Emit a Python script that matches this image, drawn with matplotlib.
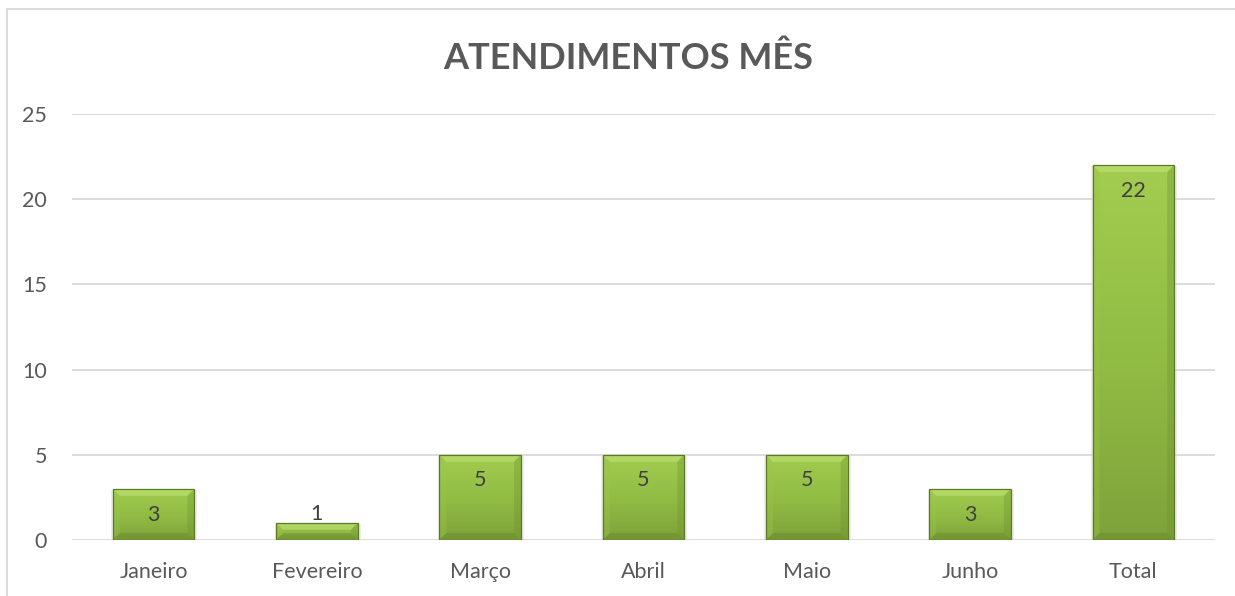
import matplotlib
matplotlib.use("Agg")
import matplotlib.pyplot as plt
import numpy as np
from matplotlib.patches import Polygon, Rectangle
from matplotlib.colors import LinearSegmentedColormap

categories = ["Janeiro", "Fevereiro", "Março", "Abril", "Maio", "Junho", "Total"]
values = [3, 1, 5, 5, 5, 3, 22]
yticks = [0, 5, 10, 15, 20, 25]
title = "ATENDIMENTOS MÊS"

plt.rcParams['font.family'] = ['Lato', 'DejaVu Sans']
W, H = 1235, 596
fig = plt.figure(figsize=(W / 100, H / 100), dpi=100)
fig.patch.set_facecolor("white")

# outer chart border
fig.add_artist(Rectangle((7 / W, -0.1), 1.2, (H - 9) / H + 0.1, transform=fig.transFigure,
                         fill=False, edgecolor="#d9d9d9", linewidth=1.3))

ax = fig.add_axes([72 / W, (H - 540) / H, (1215 - 72) / W, (540 - 114) / H])
ax.set_xlim(-0.5, len(categories) - 0.5)
ax.set_ylim(0, 25)
for s in ax.spines.values():
    s.set_visible(False)
ax.set_yticks(yticks)
ax.grid(axis="y", color="#d9d9d9", linewidth=1.3)
ax.set_axisbelow(True)
ax.tick_params(axis="both", length=0, labelsize=15.5, labelcolor="#595959")
ax.tick_params(axis="y", pad=18)
ax.tick_params(axis="x", pad=16)
ax.set_xticks(range(len(categories)))
ax.set_xticklabels(categories)

x = np.arange(len(categories))
bars = ax.bar(x, values, width=0.5, color="none", edgecolor="none", zorder=2)

cmap = LinearSegmentedColormap.from_list("g", ["#7ea23a", "#92bd45", "#a2cd4f"])
grad = np.linspace(0, 1, 256).reshape(-1, 1)

fig.canvas.draw()
inv = ax.transData.inverted()
def px_to_data(dx, dy):
    p0 = inv.transform((0, 0))
    p1 = inv.transform((dx, dy))
    return p1[0] - p0[0], p1[1] - p0[1]

bx, by = px_to_data(7, 7)
sx, sy = px_to_data(3, 3)

for b, v in zip(bars, values):
    x0, w, h = b.get_x(), b.get_width(), b.get_height()
    x1 = x0 + w
    # soft shadow
    ax.add_patch(Rectangle((x0 - sx * 0.5, -sy), w + sx * 1.5, h + sy * 0.6, facecolor="#d5d5d5",
                           edgecolor="none", alpha=0.45, zorder=1.5))
    im = ax.imshow(grad, extent=(x0, x1, 0, h), origin="lower", cmap=cmap,
                   aspect="auto", zorder=2, interpolation="bilinear")
    im.set_clip_path(b)
    ddy = min(by, h / 2.5)
    ddx = bx
    top = Polygon([(x0, h), (x1, h), (x1 - ddx, h - ddy), (x0 + ddx, h - ddy)],
                  facecolor="#c2e47a", edgecolor="none", alpha=0.55, zorder=2.1)
    bot = Polygon([(x0, 0), (x1, 0), (x1 - ddx, ddy), (x0 + ddx, ddy)],
                  facecolor="#5f7f25", edgecolor="none", alpha=0.35, zorder=2.1)
    left = Polygon([(x0, 0), (x0, h), (x0 + ddx, h - ddy), (x0 + ddx, ddy)],
                   facecolor="#9cc64a", edgecolor="none", alpha=0.35, zorder=2.1)
    right = Polygon([(x1, 0), (x1, h), (x1 - ddx, h - ddy), (x1 - ddx, ddy)],
                    facecolor="#6f922f", edgecolor="none", alpha=0.35, zorder=2.1)
    for p in (top, bot, left, right):
        ax.add_patch(p)
    ax.add_patch(Rectangle((x0, 0), w, h, fill=False, edgecolor="#5e7a28", linewidth=0.9, zorder=2.2))

for b, v in zip(bars, values):
    cx = b.get_x() + b.get_width() / 2
    h = b.get_height()
    if h * 17 > 30:
        ax.annotate(str(v), (cx, h), xytext=(0, -18.5), textcoords="offset points",
                    ha="center", va="center", fontsize=15.5, color="#404040", zorder=3)
    else:
        ax.annotate(str(v), (cx, h), xytext=(0, -1), textcoords="offset points",
                    ha="center", va="bottom", fontsize=15.5, color="#404040", zorder=3)

fig.text(628 / W, 1 - 58 / H, title, ha="center", va="center", fontsize=26,
         fontweight="bold", color="#595959")

fig.savefig("out.png", dpi=100)
